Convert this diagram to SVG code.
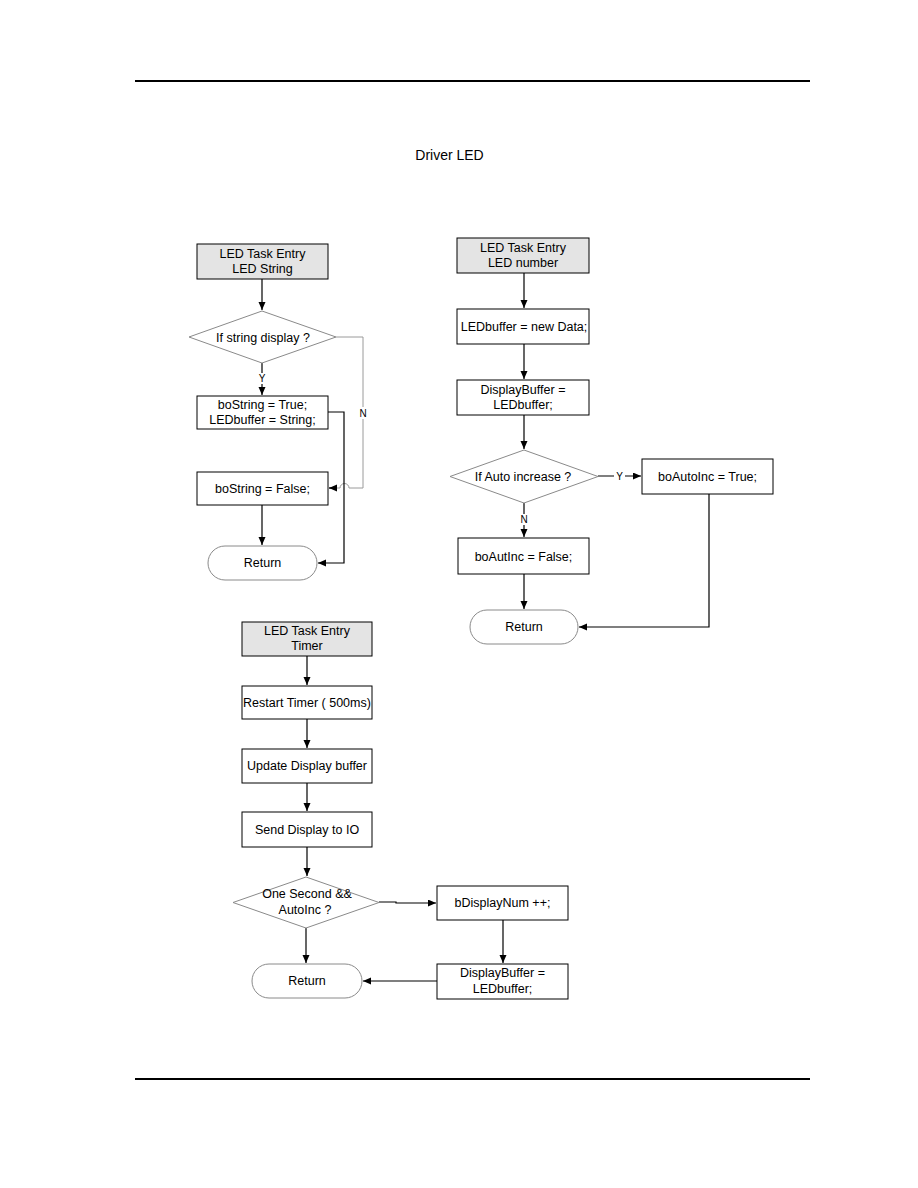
<svg xmlns="http://www.w3.org/2000/svg" width="918" height="1188" viewBox="0 0 918 1188">
<style>
text{font-family:"Liberation Sans",Arial,sans-serif;font-size:12.5px;fill:#000;text-anchor:middle}
.lbl{font-size:10px}
.box{fill:#fff;stroke:#000;stroke-width:1}
.start{fill:#e4e4e4;stroke:#000;stroke-width:1}
.dia{fill:#fff;stroke:#8a8a8a;stroke-width:1}
.term{fill:#fff;stroke:#8a8a8a;stroke-width:1}
.c{fill:none;stroke:#000;stroke-width:1.2}
.cg{fill:none;stroke:#9a9a9a;stroke-width:1}
.bg{fill:#fff}
</style>
<defs>
<marker id="ah" markerUnits="userSpaceOnUse" markerWidth="9" markerHeight="8" refX="8" refY="3.5" orient="auto">
<path d="M0,0 L8,3.5 L0,7 z" fill="#000"/>
</marker>
</defs>
<rect width="918" height="1188" fill="#fff"/>
<line x1="135" y1="81" x2="810" y2="81" stroke="#000" stroke-width="2"/>
<line x1="135" y1="1079" x2="810" y2="1079" stroke="#000" stroke-width="2"/>
<text x="449.5" y="160" style="font-size:14px">Driver LED</text>

<g id="connectors">
<path class="c" d="M262,279 V310" marker-end="url(#ah)"/>
<path class="c" d="M262,363 V395" marker-end="url(#ah)"/>
<path class="cg" d="M336,337 H363 V488 H349 A4.5,4.5 0 0 0 340,488 H329.5"/>
<path class="c" d="M336,488 H329" marker-end="url(#ah)"/>
<path class="c" d="M328,412 H344 V563 H318" marker-end="url(#ah)"/>
<path class="c" d="M262,505 V545" marker-end="url(#ah)"/>

<path class="c" d="M524,273 V308" marker-end="url(#ah)"/>
<path class="c" d="M524,344 V379" marker-end="url(#ah)"/>
<path class="c" d="M524,415 V449" marker-end="url(#ah)"/>
<path class="c" d="M598,476 H641" marker-end="url(#ah)"/>
<path class="c" d="M524,503 V537" marker-end="url(#ah)"/>
<path class="c" d="M524,574 V609" marker-end="url(#ah)"/>
<path class="c" d="M709,494 V627 H579" marker-end="url(#ah)"/>

<path class="c" d="M307,656 V685" marker-end="url(#ah)"/>
<path class="c" d="M307,719 V748" marker-end="url(#ah)"/>
<path class="c" d="M307,783 V811" marker-end="url(#ah)"/>
<path class="c" d="M307,847 V876" marker-end="url(#ah)"/>
<path class="c" d="M379,902 H396 V903 H436" marker-end="url(#ah)"/>
<path class="c" d="M306,928 V963" marker-end="url(#ah)"/>
<path class="c" d="M503,920 V963" marker-end="url(#ah)"/>
<path class="c" d="M437,981 H363" marker-end="url(#ah)"/>

<rect class="bg" x="257" y="373" width="10" height="11"/>
<text class="lbl" x="262" y="382">Y</text>
<rect class="bg" x="358" y="407" width="10" height="12"/>
<text class="lbl" x="363" y="417">N</text>
<rect class="bg" x="614" y="471" width="11" height="10"/>
<text class="lbl" x="619.5" y="480">Y</text>
<rect class="bg" x="519" y="514" width="10" height="11"/>
<text class="lbl" x="524" y="523">N</text>
</g>

<g id="n-entry-string">
<rect class="start" x="197" y="244" width="131" height="35"/>
<text x="262.5" y="258">LED Task Entry</text>
<text x="262.5" y="273">LED String</text>
</g>
<g id="n-if-string">
<polygon class="dia" points="262,311 336,337 262,363 189,337"/>
<text x="263" y="342">If string display ?</text>
</g>
<g id="n-bostring-true">
<rect class="box" x="197" y="396" width="131" height="33"/>
<text x="262.5" y="409">boString = True;</text>
<text x="262.5" y="424">LEDbuffer = String;</text>
</g>
<g id="n-bostring-false">
<rect class="box" x="197" y="472" width="131" height="33"/>
<text x="262.5" y="493">boString = False;</text>
</g>
<g id="n-return-1">
<rect class="term" x="208" y="546" width="109" height="34" rx="17" ry="17"/>
<text x="262.5" y="567">Return</text>
</g>

<g id="n-entry-number">
<rect class="start" x="457" y="238" width="132" height="35"/>
<text x="523" y="252">LED Task Entry</text>
<text x="523" y="267">LED number</text>
</g>
<g id="n-ledbuffer-new">
<rect class="box" x="457" y="309" width="132" height="35"/>
<text x="524" y="331">LEDbuffer = new Data;</text>
</g>
<g id="n-displaybuffer-1">
<rect class="box" x="457" y="380" width="132" height="35"/>
<text x="523" y="394">DisplayBuffer =</text>
<text x="523" y="409">LEDbuffer;</text>
</g>
<g id="n-if-auto">
<polygon class="dia" points="524,450 598,476.5 524,503 450,476.5"/>
<text x="523" y="481">If Auto increase ?</text>
</g>
<g id="n-boautoinc-true">
<rect class="box" x="642" y="459" width="131" height="35"/>
<text x="707.5" y="481">boAutoInc = True;</text>
</g>
<g id="n-boautinc-false">
<rect class="box" x="458" y="538" width="131" height="36"/>
<text x="523.5" y="561">boAutInc = False;</text>
</g>
<g id="n-return-2">
<rect class="term" x="470" y="610" width="108" height="34" rx="17" ry="17"/>
<text x="524" y="631">Return</text>
</g>

<g id="n-entry-timer">
<rect class="start" x="242" y="622" width="130" height="34"/>
<text x="307" y="635">LED Task Entry</text>
<text x="307" y="650">Timer</text>
</g>
<g id="n-restart-timer">
<rect class="box" x="242" y="686" width="130" height="33"/>
<text x="307" y="707">Restart Timer ( 500ms)</text>
</g>
<g id="n-update-display">
<rect class="box" x="242" y="749" width="130" height="34"/>
<text x="307" y="770">Update Display buffer</text>
</g>
<g id="n-send-display">
<rect class="box" x="242" y="812" width="130" height="35"/>
<text x="307" y="834">Send Display to IO</text>
</g>
<g id="n-one-second">
<polygon class="dia" points="306,877 379,902.5 306,928 233,902.5"/>
<text x="307" y="898">One Second &amp;&amp;</text>
<text x="305" y="914">AutoInc ?</text>
</g>
<g id="n-bdisplaynum">
<rect class="box" x="437" y="886" width="131" height="34"/>
<text x="502.5" y="907">bDisplayNum ++;</text>
</g>
<g id="n-displaybuffer-2">
<rect class="box" x="437" y="964" width="131" height="35"/>
<text x="502.5" y="977">DisplayBuffer =</text>
<text x="502.5" y="993">LEDbuffer;</text>
</g>
<g id="n-return-3">
<rect class="term" x="252" y="964" width="110" height="34" rx="17" ry="17"/>
<text x="307" y="985">Return</text>
</g>
</svg>
